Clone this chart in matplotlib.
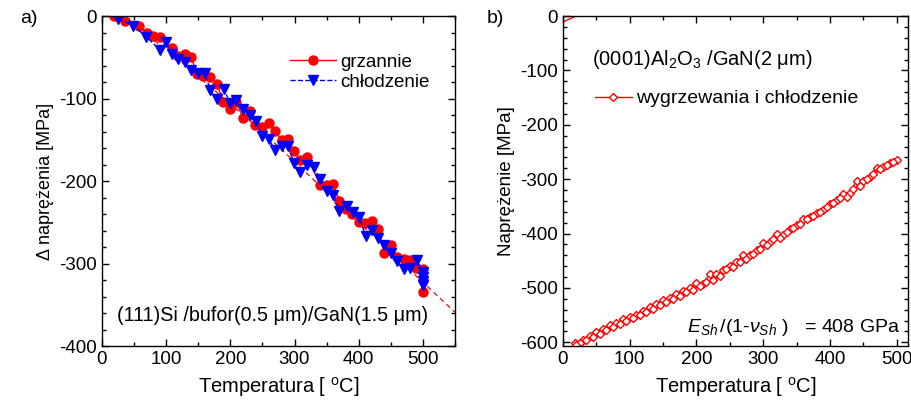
import matplotlib
matplotlib.use("Agg")
import matplotlib.pyplot as plt
from matplotlib.ticker import MultipleLocator

plt.rcParams['font.family'] = ['Liberation Sans', 'DejaVu Sans']
plt.rcParams['mathtext.fontset'] = 'custom'
plt.rcParams['mathtext.rm'] = 'Liberation Sans'
plt.rcParams['mathtext.it'] = 'Liberation Sans:italic'
plt.rcParams['mathtext.bf'] = 'Liberation Sans:bold'
plt.rcParams['axes.unicode_minus'] = False

# a) Si substrate - heating / cooling
heat_T = [18, 36, 58, 70, 79, 90, 109, 119, 130, 139, 148, 158, 169, 179, 189, 200,
          209, 220, 230, 239, 250, 260, 269, 280, 290, 299, 309, 320, 340, 350, 360,
          370, 380, 390, 400, 410, 420, 430, 440, 450, 460, 471, 480, 489, 500, 500, 500]
heat_S = [0, -6, -12, -20, -24, -26, -39, -49, -46, -50, -70, -73, -74, -82, -104, -113,
          -104, -124, -115, -132, -135, -130, -139, -150, -149, -164, -175, -171, -205, -205, -204,
          -224, -234, -240, -250, -251, -249, -258, -287, -278, -292, -294, -296, -305, -307, -320, -335]

cool_T = [25, 49, 69, 90, 100, 109, 119, 130, 139, 150, 160, 169, 179, 190, 200, 209,
          220, 230, 240, 250, 260, 269, 280, 290, 299, 309, 320, 330, 340, 350, 360, 370,
          381, 391, 400, 411, 420, 430, 440, 450, 459, 470, 480, 491, 500, 500, 500, 500]
cool_S = [-3, -12, -25, -41, -32, -46, -52, -56, -65, -69, -69, -90, -101, -89, -106, -102,
          -113, -120, -127, -146, -149, -162, -158, -158, -178, -189, -181, -183, -198, -212, -217, -236,
          -230, -237, -243, -266, -259, -269, -277, -287, -297, -306, -305, -296, -310, -316, -321, -326]

fit_T = [25, 100, 250, 400, 550]
fit_S = [0, -40, -140, -250, -359]

# b) Al2O3 substrate
b_T = [18, 30, 40, 50, 60, 70, 80, 90, 100, 110, 120, 130, 140, 150, 160, 170, 180, 190,
       200, 210, 220, 230, 240, 250, 260, 270, 280, 290, 300, 310, 320, 330, 340, 350, 360,
       370, 380, 390, 400, 410, 420, 430, 440, 450, 460, 470, 480, 490, 500,
       495, 485, 475, 465, 455, 445, 435, 425, 415, 405, 395, 385, 375, 365, 355, 345, 335,
       325, 315, 305, 295, 285, 275, 265, 255, 245, 235, 225, 215, 205, 195, 185, 175, 165,
       155, 145, 135, 125, 115, 105, 95, 85, 75, 65, 55, 45, 35, 25, 20]
b_S = [-602, -595, -589, -581, -575, -569, -565, -558, -554, -549, -543, -536, -529, -523,
       -518, -511, -506, -500, -491, -492, -475, -475, -468, -459, -452, -440, -440, -431,
       -417, -416, -400, -403, -391, -385, -374, -370, -362, -357, -345, -339, -327, -325,
       -303, -303, -296, -280, -278, -271, -265,
       -268, -274, -281, -290, -299, -312, -318, -333, -335, -344, -352, -360, -367, -374,
       -382, -390, -398, -409, -410, -422, -428, -437, -446, -453, -461, -466, -478, -485,
       -490, -497, -503, -508, -515, -520, -526, -532, -538, -545, -550, -556, -560, -566,
       -572, -578, -584, -590, -596, -601, -605]

b_fit_T = [0, 25]
b_fit_S = [-11, 3]

fig = plt.figure(figsize=(9.12, 4.11), dpi=100)
ax1 = fig.add_axes([0.1118, 0.158, 0.3871, 0.803])
ax2 = fig.add_axes([0.6173, 0.158, 0.3783, 0.803])

ax1.plot(fit_T, fit_S, color='red', ls=(0, (4, 3)), lw=0.9)
ax1.plot(heat_T, heat_S, color='red', marker='o', ms=6.5, lw=1, label='grzannie')
ax1.plot(cool_T, cool_S, color='blue', marker='v', ms=7, lw=1, ls='--', label='chłodzenie')
ax1.set_xlim(0, 550)
ax1.set_ylim(-400, 0)
ax1.set_xlabel('Temperatura [ $^{\\rm o}$C]', fontsize=14.5, labelpad=5)
ax1.set_ylabel('Δ naprężenia [MPa]', fontsize=13, labelpad=4)
ax1.xaxis.set_major_locator(MultipleLocator(100))
ax1.xaxis.set_minor_locator(MultipleLocator(50))
ax1.yaxis.set_major_locator(MultipleLocator(100))
ax1.yaxis.set_minor_locator(MultipleLocator(20))
ax1.legend(loc='upper left', bbox_to_anchor=(0.51, 0.908), frameon=False, fontsize=13.5,
           handlelength=2.5, handletextpad=0.2, labelspacing=0.15, borderaxespad=0)
ax1.text(0.484, 0.094, '(111)Si /bufor(0.5 μm)/GaN(1.5 μm)', transform=ax1.transAxes,
         ha='center', va='center', fontsize=14.2)

ax2.plot(b_fit_T, b_fit_S, color='red', lw=1)
ax2.plot(b_T, b_S, color='red', marker='D', ms=4, mfc='white', mec='red', mew=1, lw=1,
         label='wygrzewania i chłodzenie')
ax2.set_xlim(0, 517)
ax2.set_ylim(-607, 0)
ax2.set_xlabel('Temperatura [ $^{\\rm o}$C]', fontsize=14.5, labelpad=5)
ax2.set_ylabel('Naprężenie [MPa]', fontsize=13.5, labelpad=4)
ax2.xaxis.set_major_locator(MultipleLocator(100))
ax2.xaxis.set_minor_locator(MultipleLocator(50))
ax2.yaxis.set_major_locator(MultipleLocator(100))
ax2.yaxis.set_minor_locator(MultipleLocator(20))
ax2.legend(loc='center left', bbox_to_anchor=(0.07, 0.75), frameon=False, fontsize=14,
           handlelength=1.9, handletextpad=0.2, borderaxespad=0)
ax2.text(0.084, 0.867, '(0001)Al$_2$O$_3$ /GaN(2 μm)', transform=ax2.transAxes,
         ha='left', va='center', fontsize=14.5)
ax2.text(0.977, 0.055, '$E_{Sh}\\,/(1\\text{-}\\nu_{Sh}\\,\\,)$   = 408 GPa', transform=ax2.transAxes,
         ha='right', va='center', fontsize=14)

for ax in (ax1, ax2):
    ax.tick_params(which='both', direction='in', top=True, right=True, labelsize=13.5)
    ax.tick_params(which='major', length=5, width=1)
    ax.tick_params(which='minor', length=3, width=1)
    for sp in ax.spines.values():
        sp.set_linewidth(1)

fig.text(0.022, 0.955, 'a)', fontsize=14, va='center')
fig.text(0.534, 0.955, 'b)', fontsize=14, va='center')

fig.savefig('out.png', dpi=100)
